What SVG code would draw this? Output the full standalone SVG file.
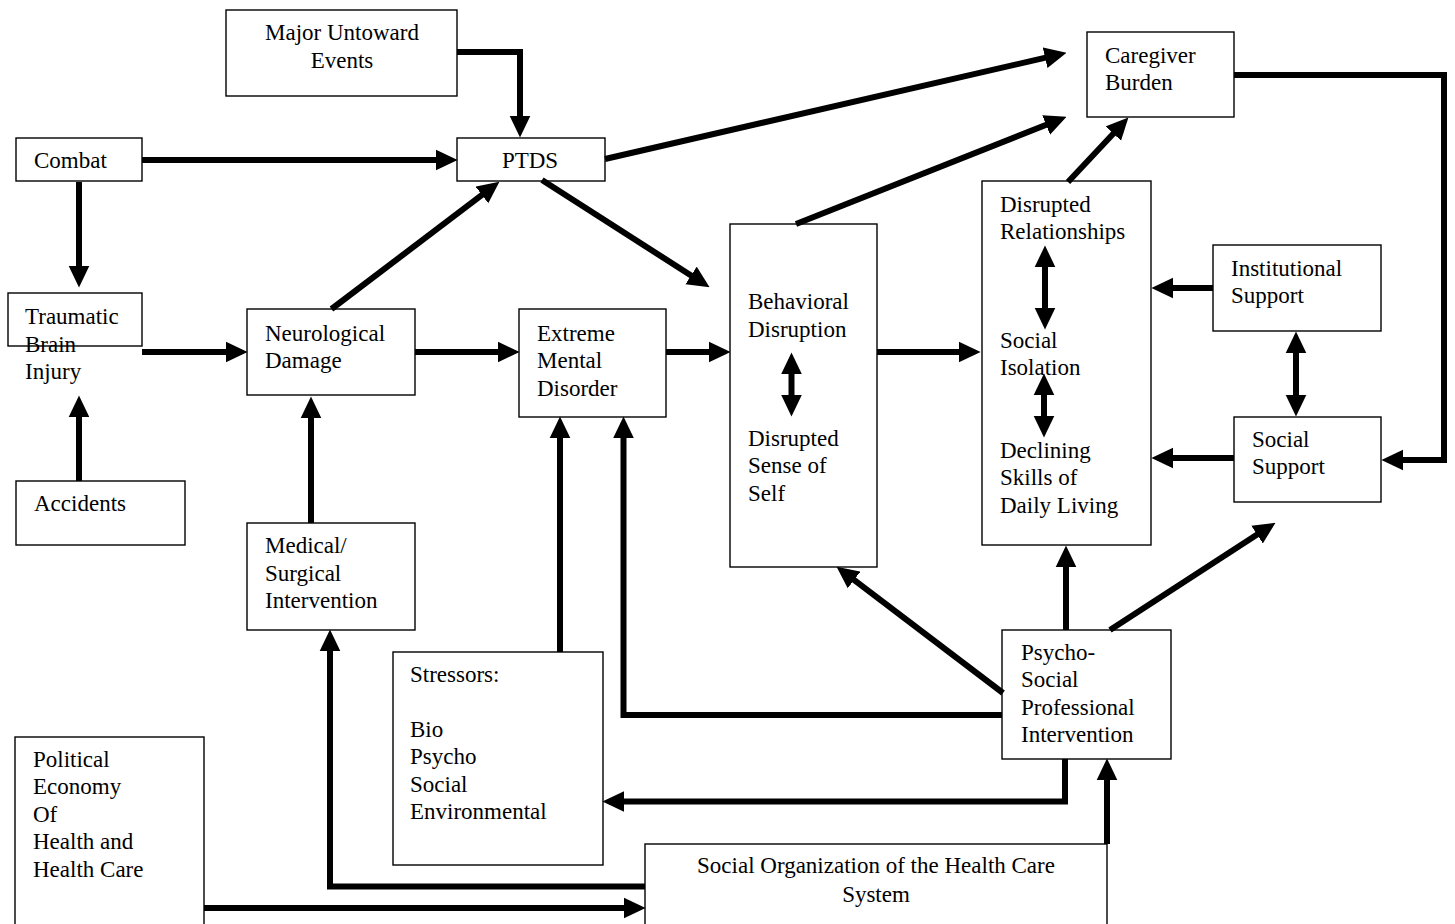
<svg xmlns="http://www.w3.org/2000/svg" width="1455" height="924" viewBox="0 0 1455 924">
<style>
.box{fill:#fff;stroke:#000;stroke-width:1.4}
text{font-family:"Liberation Serif","Times New Roman",serif;font-size:23px;fill:#000}
.c{fill:none;stroke:#000;stroke-width:6;stroke-linejoin:miter;stroke-linecap:butt}
</style>
<defs>
<marker id="ah" markerUnits="userSpaceOnUse" markerWidth="22" markerHeight="22" refX="8" refY="10" orient="auto-start-reverse" viewBox="0 0 21 20">
<path d="M0,0 L21,10 L0,20 z" fill="#000"/>
</marker>
</defs>
<rect width="1455" height="924" fill="#fff"/>

<g id="major">
<rect class="box" x="226" y="10" width="231" height="86"/>
<text x="342" y="40" text-anchor="middle">Major Untoward</text>
<text x="342" y="68" text-anchor="middle">Events</text>
</g>
<g id="combat">
<rect class="box" x="16" y="138" width="126" height="43"/>
<text x="34" y="168">Combat</text>
</g>
<g id="ptds">
<rect class="box" x="457" y="138" width="148" height="43"/>
<text x="530" y="168" text-anchor="middle">PTDS</text>
</g>
<g id="caregiver">
<rect class="box" x="1087" y="32" width="147" height="85"/>
<text x="1105" y="63">Caregiver</text>
<text x="1105" y="90">Burden</text>
</g>
<g id="tbi">
<rect class="box" x="8" y="293" width="134" height="53"/>
<text x="25" y="324">Traumatic</text>
<text x="25" y="352">Brain</text>
<text x="25" y="379">Injury</text>
</g>
<g id="accidents">
<rect class="box" x="16" y="481" width="169" height="64"/>
<text x="34" y="511">Accidents</text>
</g>
<g id="neuro">
<rect class="box" x="247" y="309" width="168" height="86"/>
<text x="265" y="341">Neurological</text>
<text x="265" y="368">Damage</text>
</g>
<g id="extreme">
<rect class="box" x="519" y="309" width="147" height="108"/>
<text x="537" y="341">Extreme</text>
<text x="537" y="368">Mental</text>
<text x="537" y="396">Disorder</text>
</g>
<g id="medical">
<rect class="box" x="247" y="523" width="168" height="107"/>
<text x="265" y="553">Medical/</text>
<text x="265" y="581">Surgical</text>
<text x="265" y="608">Intervention</text>
</g>
<g id="behavioral">
<rect class="box" x="730" y="224" width="147" height="343"/>
<text x="748" y="309">Behavioral</text>
<text x="748" y="337">Disruption</text>
<text x="748" y="446">Disrupted</text>
<text x="748" y="473">Sense of</text>
<text x="748" y="501">Self</text>
</g>
<g id="disrupted">
<rect class="box" x="982" y="181" width="169" height="364"/>
<text x="1000" y="212">Disrupted</text>
<text x="1000" y="239">Relationships</text>
<text x="1000" y="348">Social</text>
<text x="1000" y="375">Isolation</text>
<text x="1000" y="458">Declining</text>
<text x="1000" y="485">Skills of</text>
<text x="1000" y="513">Daily Living</text>
</g>
<g id="institutional">
<rect class="box" x="1213" y="245" width="168" height="86"/>
<text x="1231" y="276">Institutional</text>
<text x="1231" y="303">Support</text>
</g>
<g id="social-support">
<rect class="box" x="1234" y="417" width="147" height="85"/>
<text x="1252" y="447">Social</text>
<text x="1252" y="474">Support</text>
</g>
<g id="psycho">
<rect class="box" x="1002" y="630" width="169" height="129"/>
<text x="1021" y="660">Psycho-</text>
<text x="1021" y="687">Social</text>
<text x="1021" y="715">Professional</text>
<text x="1021" y="742">Intervention</text>
</g>
<g id="stressors">
<rect class="box" x="393" y="652" width="210" height="213"/>
<text x="410" y="682">Stressors:</text>
<text x="410" y="737">Bio</text>
<text x="410" y="764">Psycho</text>
<text x="410" y="792">Social</text>
<text x="410" y="819">Environmental</text>
</g>
<g id="political">
<rect class="box" x="15" y="737" width="189" height="200"/>
<text x="33" y="767">Political</text>
<text x="33" y="794">Economy</text>
<text x="33" y="822">Of</text>
<text x="33" y="849">Health and</text>
<text x="33" y="877">Health Care</text>
</g>
<g id="social-org">
<rect class="box" x="645" y="844" width="462" height="100"/>
<text x="876" y="873" text-anchor="middle">Social Organization of the Health Care</text>
<text x="876" y="902" text-anchor="middle">System</text>
</g>

<g id="connectors">
<path class="c" d="M457,52 H520 V124" marker-end="url(#ah)"/>
<path class="c" d="M142,160 H444" marker-end="url(#ah)"/>
<path class="c" d="M79,182 V274" marker-end="url(#ah)"/>
<path class="c" d="M79,481 V409" marker-end="url(#ah)"/>
<path class="c" d="M142,352 H234" marker-end="url(#ah)"/>
<path class="c" d="M331.5,309 L488.6,189.9" marker-end="url(#ah)"/>
<path class="c" d="M415,352 H506" marker-end="url(#ah)"/>
<path class="c" d="M311,523 V410" marker-end="url(#ah)"/>
<path class="c" d="M542,180 L698.1,280" marker-end="url(#ah)"/>
<path class="c" d="M605,159 L1053.3,55.9" marker-end="url(#ah)"/>
<path class="c" d="M796,224 L1053.9,121.8" marker-end="url(#ah)"/>
<path class="c" d="M1068,182 L1119.1,127.5" marker-end="url(#ah)"/>
<path class="c" d="M1234,75 H1444 V460 H1395" marker-end="url(#ah)"/>
<path class="c" d="M666,352 H717" marker-end="url(#ah)"/>
<path class="c" d="M877,352 H967" marker-end="url(#ah)"/>
<path class="c" d="M791.5,366 V403" marker-start="url(#ah)" marker-end="url(#ah)"/>
<path class="c" d="M1045,259 V316" marker-start="url(#ah)" marker-end="url(#ah)"/>
<path class="c" d="M1044,387 V424" marker-start="url(#ah)" marker-end="url(#ah)"/>
<path class="c" d="M1213,288 H1165" marker-end="url(#ah)"/>
<path class="c" d="M1296,345 V403" marker-start="url(#ah)" marker-end="url(#ah)"/>
<path class="c" d="M1234,458 H1165" marker-end="url(#ah)"/>
<path class="c" d="M1066,630 V559" marker-end="url(#ah)"/>
<path class="c" d="M1110,630 L1264.1,530.1" marker-end="url(#ah)"/>
<path class="c" d="M1003,693 L847.4,574.9" marker-end="url(#ah)"/>
<path class="c" d="M1002,715 H623.5 V430" marker-end="url(#ah)"/>
<path class="c" d="M560,652 V430" marker-end="url(#ah)"/>
<path class="c" d="M1065,759 V801.5 H616" marker-end="url(#ah)"/>
<path class="c" d="M645,886.5 H330 V643" marker-end="url(#ah)"/>
<path class="c" d="M1107,844 V772" marker-end="url(#ah)"/>
<path class="c" d="M204,908 H632" marker-end="url(#ah)"/>
</g>
</svg>
